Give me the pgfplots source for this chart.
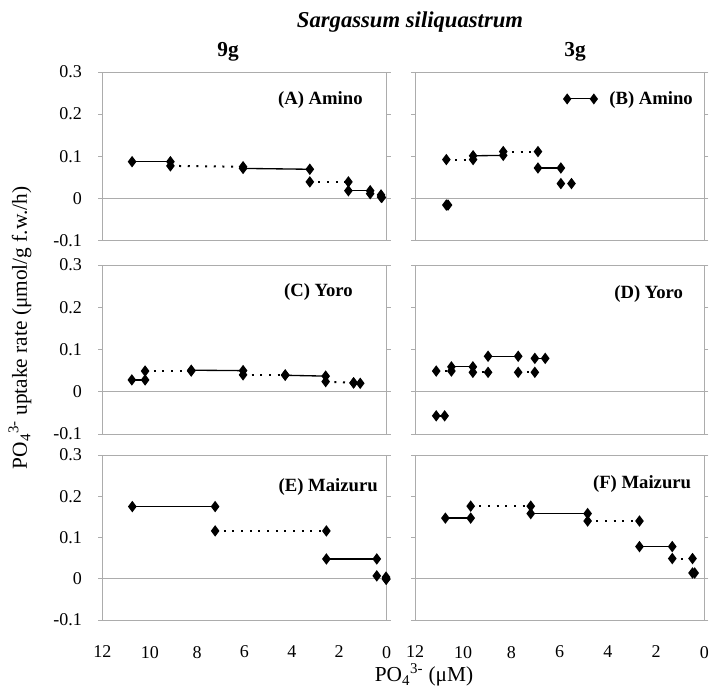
\documentclass[border=0pt]{standalone}
\usepackage{fontspec}
\setmainfont{Liberation Serif}
\usepackage{pgfplots}
\pgfplotsset{compat=1.18}
\pgfplotsset{
  panel/.style={scale only axis, anchor=north west,
    xmin=0, xmax=12, x dir=reverse, ymin=-0.1, ymax=0.3,
    xtick={0,2,4,6,8,10,12}, ytick={-0.1,0,0.1,0.2,0.3},
    xticklabels={}, yticklabels={},
    axis line style={gray!65, line width=0.5pt},
    major tick length=3pt, tick align=outside,
    x tick style={draw=none}, y tick style={gray!65, line width=0.5pt},
    tick label style={font=\fontsize{13.5}{15}\selectfont},
    yticklabel style={xshift=-9pt},
    xticklabel style={yshift=-13pt},
    clip=false},
  leftc/.style={width=213pt, yticklabels={-0.1,0,0.1,0.2,0.3}},
  rightc/.style={width=217pt},
  toprow/.style={height=126.3pt},
  midrow/.style={height=126.75pt},
  botrow/.style={height=123.75pt, xticklabels={0,2,4,6,8,10,12}},
  zero/.style={gray!65, line width=0.5pt, mark=none, forget plot},
  sol/.style={black, line width=1pt, mark=diamond*, mark size=3.5pt, mark options={solid}, forget plot},
  dot/.style={black, line width=1.5pt, dash pattern=on 1.5pt off 5pt, mark=diamond*, mark size=3.5pt, mark options={solid, line width=1pt}, forget plot},
}
\tikzset{plab/.style={font=\bfseries\fontsize{14}{16}\selectfont, anchor=east, inner sep=0pt}}
\begin{document}
\begin{tikzpicture}
% (A)
\begin{axis}[panel, leftc, toprow, at={(76.875pt,-54pt)}]
\addplot[zero] coordinates {(12,0) (0,0)};
\addplot[sol] coordinates {(10.75,0.087) (9.13,0.087)};
\addplot[dot] coordinates {(9.13,0.077) (6.06,0.075)};
\addplot[sol] coordinates {(6.06,0.071) (3.24,0.069)};
\addplot[dot] coordinates {(3.24,0.039) (1.61,0.039)};
\addplot[sol] coordinates {(1.61,0.018) (0.69,0.018)};
\addplot[dot] coordinates {(0.69,0.011) (0.23,0.008)};
\addplot[sol] coordinates {(0.23,0.003) (0.20,0.002)};
\node[plab] at (rel axis cs:0.917,0.834) {(A) Amino};
\end{axis}
% (B)
\begin{axis}[panel, rightc, toprow, at={(311.25pt,-54pt)},
  legend style={draw=none, fill=none, at={(0.975,0.84)}, anchor=east,
    font=\bfseries\fontsize{14}{16}\selectfont, inner sep=1pt},
  legend image code/.code={\draw[#1] plot coordinates {(0pt,0pt) (20pt,0pt)};}]
\addlegendimage{black, line width=0.8pt, mark=diamond*, mark size=3.5pt, mark options={solid}}
\addlegendentry{\hspace{7pt}(B) Amino}
\addplot[zero] coordinates {(12,0) (0,0)};
\addplot[sol] coordinates {(10.70,-0.016) (10.63,-0.016)};
\addplot[dot] coordinates {(10.70,0.092) (9.59,0.092)};
\addplot[sol] coordinates {(9.59,0.101) (8.34,0.102)};
\addplot[dot] coordinates {(8.34,0.111) (6.90,0.111)};
\addplot[sol] coordinates {(6.90,0.072) (5.95,0.072)};
\addplot[dot] coordinates {(5.95,0.035) (5.51,0.035)};
\end{axis}
% (C)
\begin{axis}[panel, leftc, midrow, at={(76.875pt,-198.75pt)}]
\addplot[zero] coordinates {(12,0) (0,0)};
\addplot[sol] coordinates {(10.76,0.028) (10.20,0.028)};
\addplot[dot] coordinates {(10.20,0.049) (8.25,0.049)};
\addplot[sol] coordinates {(8.25,0.051) (6.06,0.050)};
\addplot[dot] coordinates {(6.06,0.040) (4.28,0.040)};
\addplot[sol] coordinates {(4.28,0.039) (2.57,0.037)};
\addplot[dot] coordinates {(2.57,0.024) (1.39,0.021)};
\addplot[sol] coordinates {(1.39,0.021) (1.11,0.020)};
\node[plab] at (rel axis cs:0.882,0.84) {(C) Yoro};
\end{axis}
% (D)
\begin{axis}[panel, rightc, midrow, at={(311.25pt,-198.75pt)}]
\addplot[zero] coordinates {(12,0) (0,0)};
\addplot[sol] coordinates {(11.12,-0.057) (10.77,-0.057)};
\addplot[dot] coordinates {(11.12,0.049) (10.49,0.049)};
\addplot[sol] coordinates {(10.49,0.059) (9.60,0.059)};
\addplot[dot] coordinates {(9.60,0.046) (8.97,0.046)};
\addplot[sol] coordinates {(8.97,0.084) (7.72,0.084)};
\addplot[dot] coordinates {(7.72,0.046) (7.03,0.046)};
\addplot[sol] coordinates {(7.03,0.079) (6.60,0.079)};
\node[plab] at (rel axis cs:0.927,0.83) {(D) Yoro};
\end{axis}
% (E)
\begin{axis}[panel, leftc, botrow, at={(76.875pt,-341.25pt)}]
\addplot[zero] coordinates {(12,0) (0,0)};
\addplot[sol] coordinates {(10.74,0.175) (7.24,0.175)};
\addplot[dot] coordinates {(7.24,0.116) (2.54,0.116)};
\addplot[sol] coordinates {(2.54,0.048) (0.41,0.048)};
\addplot[dot] coordinates {(0.41,0.007) (0.02,0.004)};
\addplot[sol] coordinates {(0.02,-0.001) (0.01,-0.001)};
\node[plab] at (rel axis cs:0.97,0.806) {(E) Maizuru};
\end{axis}
% (F)
\begin{axis}[panel, rightc, botrow, at={(311.25pt,-341.25pt)}]
\addplot[zero] coordinates {(12,0) (0,0)};
\addplot[sol] coordinates {(10.74,0.147) (9.69,0.147)};
\addplot[dot] coordinates {(9.69,0.176) (7.20,0.176)};
\addplot[sol] coordinates {(7.20,0.158) (4.84,0.158)};
\addplot[dot] coordinates {(4.84,0.140) (2.69,0.140)};
\addplot[sol] coordinates {(2.69,0.078) (1.33,0.078)};
\addplot[dot] coordinates {(1.33,0.049) (0.49,0.049)};
\addplot[sol] coordinates {(0.49,0.014) (0.40,0.014)};
\node[plab] at (rel axis cs:0.955,0.824) {(F) Maizuru};
\end{axis}
% titles and labels
\node[font=\bfseries\itshape\fontsize{17}{20}\selectfont] at (307.5pt,-16.5pt) {Sargassum siliquastrum};
\node[font=\bfseries\fontsize{16}{19}\selectfont] at (171pt,-39pt) {9g};
\node[font=\bfseries\fontsize{16}{19}\selectfont] at (431.25pt,-39pt) {3g};
\node[rotate=90, font=\fontsize{16}{19}\selectfont] at (15pt,-246pt) {PO\textsubscript{4}\textsuperscript{3-} uptake rate (μmol/g f.w./h)};
\node[font=\fontsize{16}{19}\selectfont] at (318pt,-506.25pt) {PO\textsubscript{4}\textsuperscript{3-} (μM)};
\pgfresetboundingbox
\path[use as bounding box] (0pt,0pt) rectangle (532.5pt,-522.75pt);
\end{tikzpicture}
\end{document}
